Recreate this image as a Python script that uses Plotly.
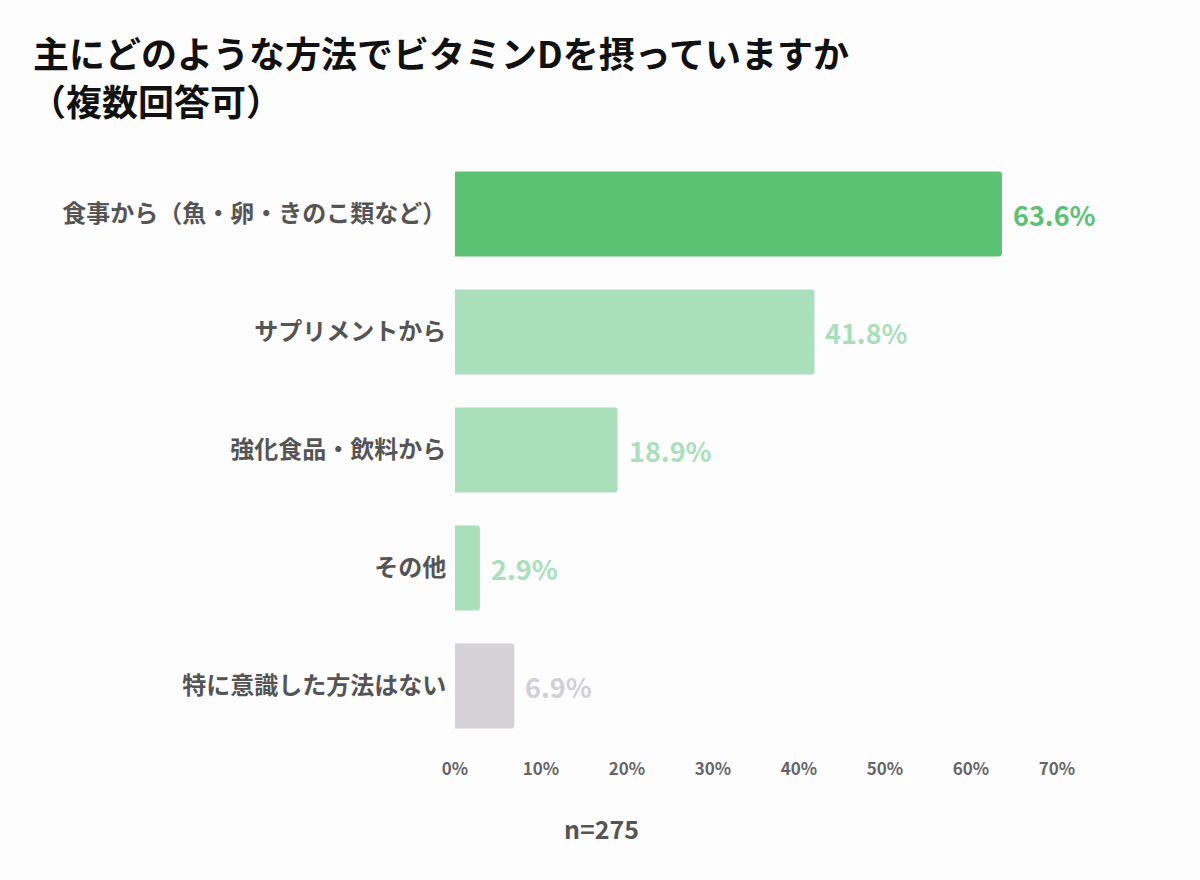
import plotly.graph_objects as go

categories = ["食事から（魚・卵・きのこ類など）", "サプリメントから", "強化食品・飲料から", "その他", "特に意識した方法はない"]
values = [63.6, 41.8, 18.9, 2.9, 6.9]
bar_colors = ["#5BC274", "#A9DFBA", "#A9DFBA", "#A9DFBA", "#D5D2D7"]
label_colors = ["#5BC274", "#A9DFBA", "#A9DFBA", "#A9DFBA", "#D2CFD5"]
tick_vals = [0, 10, 20, 30, 40, 50, 60, 70]
tick_text = ["0%", "10%", "20%", "30%", "40%", "50%", "60%", "70%"]
title_line1 = "主にどのような方法でビタミンDを摂っていますか"
title_line2 = "（複数回答可）"
note = "n=275"

FONT = "Noto Sans CJK JP"

fig = go.Figure(go.Bar(
    x=values,
    y=categories,
    orientation="h",
    marker=dict(color=bar_colors, line=dict(width=0)),
    width=0.72,
    hoverinfo="skip",
))

value_annotations = [
    dict(x=v, y=c, xref="x", yref="y", text=f"{v:.1f}%", showarrow=False,
         xanchor="left", yanchor="middle", xshift=9,
         font=dict(size=27, color=col, family=FONT, weight="bold"))
    for v, c, col in zip(values, categories, label_colors)
]

fig.update_layout(
    width=1200, height=880,
    margin=dict(l=455, r=143, t=155, b=135),
    paper_bgcolor="#FDFDFE",
    plot_bgcolor="#FDFDFE",
    showlegend=False,
    barcornerradius=3,
    font=dict(family=FONT),
    xaxis=dict(
        range=[0, 70], tickvals=tick_vals, ticktext=tick_text,
        showgrid=False, zeroline=False, showline=False,
        ticks="outside", ticklen=9, tickcolor="rgba(0,0,0,0)",
        tickfont=dict(size=17, color="#666666", family=FONT, weight="bold"),
        fixedrange=True,
    ),
    yaxis=dict(
        categoryorder="array", categoryarray=categories,
        autorange="reversed",
        showgrid=False, zeroline=False, showline=False,
        ticks="outside", ticklen=3, tickcolor="rgba(0,0,0,0)",
        tickfont=dict(size=24, color="#555555", family=FONT, weight="bold"),
        fixedrange=True,
    ),
    annotations=value_annotations + [
        dict(text=title_line1, xref="paper", yref="paper",
             x=(31 - 455) / 602, y=(745 - 52) / 590, xanchor="left", yanchor="middle",
             showarrow=False, font=dict(size=36, color="#111111", family=FONT, weight="bold")),
        dict(text=title_line2, xref="paper", yref="paper",
             x=(28 - 455) / 602, y=(745 - 100) / 590, xanchor="left", yanchor="middle",
             showarrow=False, font=dict(size=36, color="#111111", family=FONT, weight="bold")),
        dict(text=note, xref="paper", yref="paper",
             x=(601 - 455) / 602, y=(745 - 828) / 590, xanchor="center", yanchor="middle",
             showarrow=False, font=dict(size=25, color="#555555", family=FONT, weight="bold")),
    ],
)

fig.write_html("out.html")
